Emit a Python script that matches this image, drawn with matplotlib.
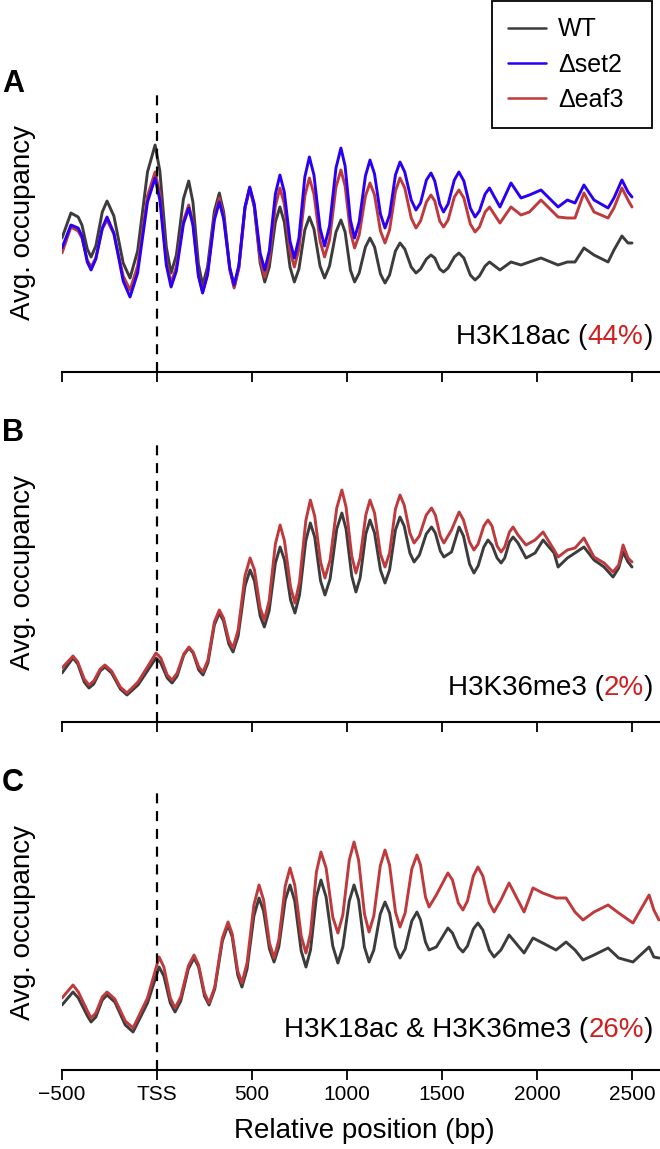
import matplotlib
matplotlib.use("Agg")
import matplotlib.pyplot as plt
from matplotlib.offsetbox import TextArea, HPacker, AnnotationBbox

plt.rcParams['font.family'] = ['Liberation Sans', 'DejaVu Sans']

# ---------------- data ----------------
tick_pos = [-500, 0, 500, 1000, 1500, 2000, 2500]
tick_labels = ['\u2212500', 'TSS', '500', '1000', '1500', '2000', '2500']
series_names = ['WT', '\u0394set2', '\u0394eaf3']
panel_letters = ['A', 'B', 'C']
panel_marks = ['H3K18ac', 'H3K36me3', 'H3K18ac & H3K36me3']
panel_pcts = ['44%', '2%', '26%']

# Panel A: H3K18ac
pos_a = [-500, -453, -415, -395, -367, -347, -322, -288, -263, -227, -178, -142, -102, -50,
         -10, 15, 49, 74, 102, 139, 167, 189, 218, 240, 266, 302, 328, 351, 383, 406, 431,
         463, 488, 512, 543, 567, 591, 623, 647, 670, 700, 723, 747, 778, 802, 826, 858,
         882, 908, 942, 968, 990, 1018, 1040, 1064, 1097, 1121, 1145, 1176, 1200, 1224,
         1255, 1279, 1304, 1338, 1363, 1387, 1418, 1442, 1462, 1488, 1508, 1532, 1565,
         1589, 1615, 1649, 1674, 1697, 1727, 1750, 1805, 1863, 1916, 1960, 2021, 2111,
         2160, 2200, 2247, 2300, 2374, 2405, 2447, 2479, 2500]
wt_a = [1.34, 1.59, 1.55, 1.47, 1.23, 1.15, 1.26, 1.60, 1.71, 1.56, 1.09, 0.94, 1.21, 2.00,
        2.27, 2.01, 1.25, 0.99, 1.17, 1.73, 1.91, 1.70, 1.08, 0.87, 1.05, 1.61, 1.79, 1.60,
        1.04, 0.85, 1.05, 1.64, 1.84, 1.65, 1.09, 0.90, 1.05, 1.50, 1.65, 1.50, 1.05, 0.90,
        1.03, 1.42, 1.55, 1.43, 1.06, 0.94, 1.06, 1.40, 1.52, 1.40, 1.02, 0.90, 0.99, 1.25,
        1.34, 1.25, 0.98, 0.89, 0.97, 1.21, 1.29, 1.23, 1.05, 0.99, 1.03, 1.13, 1.17, 1.14,
        1.03, 1.00, 1.04, 1.15, 1.19, 1.14, 0.97, 0.92, 0.96, 1.06, 1.10, 1.02, 1.10, 1.07,
        1.10, 1.14, 1.07, 1.10, 1.10, 1.24, 1.17, 1.10, 1.22, 1.36, 1.29, 1.29]
set2_a = [1.24, 1.47, 1.44, 1.36, 1.10, 1.02, 1.13, 1.44, 1.55, 1.39, 0.91, 0.75, 0.99, 1.70,
          1.94, 1.72, 1.07, 0.85, 1.01, 1.48, 1.64, 1.47, 0.96, 0.79, 0.97, 1.52, 1.70, 1.53,
          1.04, 0.87, 1.07, 1.65, 1.85, 1.68, 1.19, 1.02, 1.21, 1.78, 1.97, 1.80, 1.31, 1.14,
          1.34, 1.95, 2.15, 1.97, 1.44, 1.26, 1.46, 2.04, 2.24, 2.06, 1.52, 1.34, 1.50, 1.96,
          2.12, 1.98, 1.58, 1.44, 1.57, 1.97, 2.10, 2.00, 1.72, 1.62, 1.69, 1.92, 1.99, 1.91,
          1.68, 1.60, 1.68, 1.92, 2.00, 1.91, 1.64, 1.55, 1.61, 1.78, 1.84, 1.65, 1.89, 1.74,
          1.77, 1.82, 1.65, 1.72, 1.69, 1.87, 1.72, 1.64, 1.74, 1.92, 1.80, 1.75]
eaf3_a = [1.19, 1.45, 1.41, 1.34, 1.12, 1.05, 1.14, 1.43, 1.52, 1.38, 0.96, 0.82, 1.06, 1.76,
          2.00, 1.78, 1.11, 0.89, 1.05, 1.51, 1.67, 1.50, 0.97, 0.80, 0.99, 1.55, 1.74, 1.56,
          1.02, 0.84, 1.04, 1.64, 1.84, 1.66, 1.13, 0.95, 1.13, 1.66, 1.84, 1.68, 1.21, 1.05,
          1.23, 1.76, 1.94, 1.78, 1.31, 1.15, 1.32, 1.85, 2.02, 1.86, 1.40, 1.24, 1.37, 1.76,
          1.89, 1.77, 1.41, 1.29, 1.42, 1.81, 1.94, 1.84, 1.54, 1.44, 1.51, 1.70, 1.77, 1.71,
          1.51, 1.45, 1.52, 1.75, 1.82, 1.74, 1.48, 1.40, 1.45, 1.60, 1.65, 1.49, 1.65, 1.57,
          1.60, 1.72, 1.55, 1.54, 1.54, 1.79, 1.60, 1.54, 1.64, 1.84, 1.72, 1.65]

# Panel B: H3K36me3
pos_b = [-500, -442, -417, -383, -358, -333, -299, -274, -239, -193, -158, -100, -5, 20, 54,
         79, 106, 141, 168, 190, 220, 242, 268, 302, 328, 350, 378, 400, 427, 463, 490, 513,
         543, 565, 590, 623, 648, 671, 703, 726, 750, 783, 807, 830, 861, 884, 911, 946, 973,
         995, 1025, 1047, 1069, 1099, 1121, 1145, 1176, 1200, 1224, 1255, 1279, 1301, 1331,
         1353, 1381, 1417, 1445, 1465, 1491, 1510, 1550, 1590, 1613, 1645, 1668, 1690, 1720,
         1742, 1763, 1790, 1811, 1830, 1855, 1874, 1900, 1942, 1990, 2032, 2090, 2111, 2160,
         2200, 2247, 2300, 2353, 2400, 2430, 2453, 2479, 2500]
wt_b = [0.49, 0.64, 0.58, 0.40, 0.34, 0.38, 0.51, 0.55, 0.49, 0.33, 0.27, 0.37, 0.64, 0.59, 0.44,
        0.39, 0.46, 0.67, 0.74, 0.69, 0.52, 0.47, 0.59, 0.97, 1.09, 1.01, 0.78, 0.70, 0.86, 1.36,
        1.52, 1.41, 1.06, 0.95, 1.11, 1.59, 1.75, 1.62, 1.22, 1.09, 1.27, 1.81, 1.99, 1.85,
        1.41, 1.27, 1.43, 1.93, 2.09, 1.93, 1.46, 1.30, 1.44, 1.88, 2.02, 1.89, 1.52, 1.39,
        1.52, 1.92, 2.05, 1.96, 1.69, 1.60, 1.67, 1.88, 1.95, 1.89, 1.71, 1.65, 1.70, 1.95,
        1.86, 1.58, 1.49, 1.56, 1.75, 1.82, 1.77, 1.64, 1.59, 1.64, 1.80, 1.85, 1.79, 1.64,
        1.69, 1.82, 1.69, 1.55, 1.64, 1.69, 1.75, 1.62, 1.55, 1.45, 1.54, 1.70, 1.60, 1.55]
eaf3_b = [0.54, 0.66, 0.60, 0.43, 0.37, 0.41, 0.53, 0.57, 0.51, 0.35, 0.29, 0.40, 0.69, 0.64, 0.47,
          0.42, 0.49, 0.68, 0.75, 0.70, 0.55, 0.50, 0.62, 1.00, 1.12, 1.04, 0.82, 0.74, 0.92,
          1.46, 1.64, 1.52, 1.14, 1.02, 1.21, 1.78, 1.97, 1.81, 1.35, 1.19, 1.40, 2.01, 2.22,
          2.06, 1.60, 1.44, 1.62, 2.14, 2.32, 2.15, 1.66, 1.49, 1.64, 2.07, 2.22, 2.09, 1.68,
          1.55, 1.69, 2.13, 2.27, 2.17, 1.89, 1.79, 1.86, 2.07, 2.14, 2.07, 1.86, 1.79, 1.92,
          2.10, 2.02, 1.80, 1.72, 1.78, 1.96, 2.02, 1.96, 1.76, 1.70, 1.75, 1.90, 1.95, 1.87,
          1.77, 1.82, 1.90, 1.72, 1.65, 1.72, 1.74, 1.84, 1.65, 1.59, 1.50, 1.57, 1.77, 1.64,
          1.60]

# Panel C: H3K18ac & H3K36me3
pos_c = [-500, -442, -414, -366, -347, -322, -288, -263, -222, -167, -126, -50, 11, 36, 70, 95,
         125, 165, 195, 219, 250, 274, 304, 344, 374, 396, 425, 447, 474, 510, 537, 561, 592,
         616, 641, 675, 700, 725, 759, 784, 808, 839, 863, 890, 925, 952, 978, 1012, 1037,
         1061, 1092, 1116, 1141, 1175, 1200, 1224, 1255, 1279, 1306, 1341, 1368, 1387, 1413,
         1432, 1470, 1531, 1555, 1586, 1610, 1634, 1665, 1689, 1715, 1749, 1774, 1810, 1853,
         1932, 1979, 2030, 2100, 2153, 2200, 2242, 2300, 2374, 2430, 2505, 2590, 2615, 2642]
wt_c = [0.65, 0.78, 0.72, 0.54, 0.48, 0.53, 0.70, 0.75, 0.68, 0.45, 0.38, 0.67, 1.03, 0.94, 0.67,
        0.58, 0.69, 1.01, 1.12, 1.03, 0.74, 0.65, 0.81, 1.29, 1.45, 1.33, 0.95, 0.83, 1.01, 1.54,
        1.72, 1.59, 1.21, 1.08, 1.23, 1.70, 1.85, 1.69, 1.19, 1.03, 1.20, 1.73, 1.90, 1.73,
        1.24, 1.07, 1.23, 1.69, 1.85, 1.70, 1.23, 1.08, 1.20, 1.56, 1.68, 1.57, 1.23, 1.12,
        1.21, 1.49, 1.58, 1.50, 1.28, 1.20, 1.23, 1.42, 1.37, 1.23, 1.18, 1.24, 1.41, 1.47,
        1.40, 1.20, 1.13, 1.20, 1.35, 1.17, 1.32, 1.27, 1.20, 1.28, 1.20, 1.10, 1.15, 1.22,
        1.12, 1.08, 1.23, 1.13, 1.12]
eaf3_c = [0.72, 0.85, 0.78, 0.59, 0.52, 0.57, 0.73, 0.78, 0.71, 0.49, 0.42, 0.72, 1.13, 1.03,
          0.72, 0.62, 0.73, 1.04, 1.15, 1.05, 0.77, 0.67, 0.83, 1.32, 1.48, 1.36, 0.99, 0.87,
          1.07, 1.65, 1.85, 1.70, 1.27, 1.12, 1.30, 1.84, 2.02, 1.85, 1.34, 1.17, 1.37, 1.98,
          2.18, 2.02, 1.53, 1.37, 1.55, 2.10, 2.28, 2.10, 1.56, 1.38, 1.54, 2.04, 2.20, 2.05,
          1.58, 1.43, 1.57, 2.01, 2.15, 2.05, 1.73, 1.63, 1.75, 1.97, 1.90, 1.67, 1.60, 1.69,
          1.94, 2.03, 1.94, 1.67, 1.58, 1.70, 1.87, 1.58, 1.82, 1.77, 1.72, 1.72, 1.58, 1.50,
          1.58, 1.65, 1.57, 1.47, 1.75, 1.60, 1.50]

# ---------------- style ----------------
c_wt = '#3c3c3c'
c_set2 = '#2a00f5'
c_eaf3 = '#bf3a3c'
c_pct = '#d01e1e'
lw = 2.1

W, H = 660, 1149
fig = plt.figure(figsize=(W / 100, H / 100), dpi=100)


def fx(px):
    return px / W


def fy(py):
    return 1 - py / H


ax_left, ax_right = 62, 660
ax_tops = [92, 442, 790]
ax_bots = [372, 722, 1070]
xlim = (-500, -500 + (ax_right - ax_left) * 500 / 95)

panels = [
    (pos_a, [(wt_a, c_wt, series_names[0]), (eaf3_a, c_eaf3, series_names[2]),
             (set2_a, c_set2, series_names[1])]),
    (pos_b, [(wt_b, c_wt, series_names[0]), (eaf3_b, c_eaf3, series_names[2])]),
    (pos_c, [(wt_c, c_wt, series_names[0]), (eaf3_c, c_eaf3, series_names[2])]),
]
text_y = [337, 688, 1030]
letter_y = [84, 433, 783]
ylab_y = [222, 572, 923]

handles = {}
axes = []
for i, (pos, lines) in enumerate(panels):
    top, bot = ax_tops[i], ax_bots[i]
    ax = fig.add_axes([fx(ax_left), fy(bot), (ax_right - ax_left) / W, (bot - top) / H])
    axes.append(ax)
    for vals, col, name in lines:
        n = min(len(pos), len(vals))
        ln, = ax.plot(pos[:n], vals[:n], color=col, lw=lw, solid_joinstyle='round',
                      solid_capstyle='round', label=name)
        handles.setdefault(name, ln)
    ax.axvline(0, ymin=0, ymax=1, color='black', lw=1.6, ls=(0, (4.5, 3.5)), zorder=5)
    ax.set_xlim(*xlim)
    ax.set_ylim(0, 2.8)
    for s in ['top', 'right', 'left']:
        ax.spines[s].set_visible(False)
    ax.spines['bottom'].set_linewidth(1.5)
    ax.set_yticks([])
    ax.set_xticks(tick_pos)
    ax.tick_params(axis='x', direction='out', length=7.5, width=1.3, pad=3,
                   labelsize=15, labelbottom=(i == 2))
    if i == 2:
        ax.set_xticklabels(tick_labels)
        ax.set_xlabel('Relative position (bp)', fontsize=20, va='center')
        ax.xaxis.set_label_coords((364 - ax_left) / (ax_right - ax_left),
                                  (bot - 1131) / (bot - top))
    ax.set_ylabel('Avg. occupancy', fontsize=20, va='center')
    ax.yaxis.set_label_coords((23 - ax_left) / (ax_right - ax_left),
                              (bot - ylab_y[i]) / (bot - top))

    fig.text(fx(2), fy(letter_y[i]), panel_letters[i], fontsize=22, fontweight='bold',
             ha='left', va='center')

    tp = dict(fontsize=20, color='black')
    box = HPacker(children=[TextArea(panel_marks[i] + ' (', textprops=tp),
                            TextArea(panel_pcts[i], textprops=dict(fontsize=20, color=c_pct)),
                            TextArea(')', textprops=tp)],
                  align='baseline', pad=0, sep=0)
    ab = AnnotationBbox(box, (fx(653), fy(text_y[i])), xycoords='figure fraction',
                        box_alignment=(1, 0.5), frameon=False, pad=0)
    fig.add_artist(ab)

leg = fig.legend([handles[n] for n in series_names], series_names,
                 loc='upper left', bbox_to_anchor=(fx(492), fy(1), 160 / W, 0),
                 mode='expand', frameon=True, fancybox=False, edgecolor='black',
                 framealpha=1, fontsize=18, handlelength=1.5, handletextpad=0.5,
                 labelspacing=0.45, borderpad=0.65, borderaxespad=0)
leg.get_frame().set_linewidth(1.3)
for h in leg.get_lines():
    h.set_linewidth(1.8)

print({k: (len(p), [len(v) for v, _, _ in ls]) for k, (p, ls) in zip('ABC', panels)})
fig.savefig('out.png', dpi=100)
